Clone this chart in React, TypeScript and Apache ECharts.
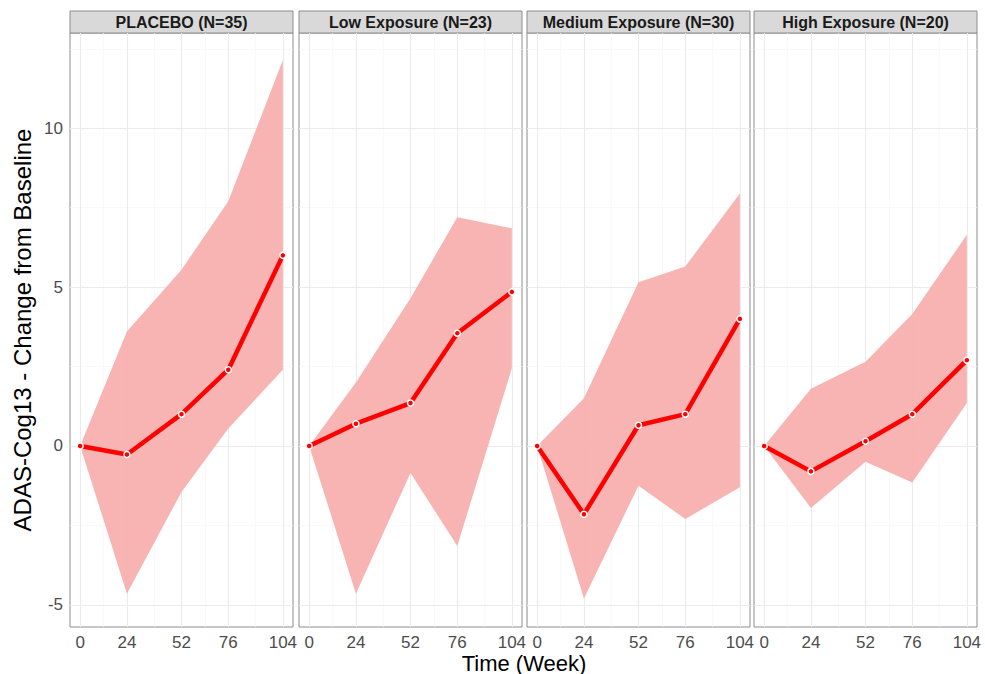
import React, { useEffect, useRef } from "react";
import * as echarts from "echarts";

const weeks = [0, 24, 52, 76, 104];
const panelTitles = [
  "PLACEBO (N=35)",
  "Low Exposure (N=23)",
  "Medium Exposure (N=30)",
  "High Exposure (N=20)",
];

const meanPlacebo = [0, -0.27, 1.0, 2.4, 6.0];
const upperPlacebo = [0, 3.6, 5.55, 7.7, 12.15];
const lowerPlacebo = [0, -4.65, -1.45, 0.55, 2.4];

const meanLow = [0, 0.7, 1.35, 3.55, 4.85];
const upperLow = [0, 2.0, 4.65, 7.2, 6.85];
const lowerLow = [0, -4.65, -0.85, -3.15, 2.45];

const meanMedium = [0, -2.15, 0.65, 1.0, 4.0];
const upperMedium = [0, 1.5, 5.15, 5.65, 7.95];
const lowerMedium = [0, -4.8, -1.25, -2.3, -1.3];

const meanHigh = [0, -0.8, 0.15, 1.0, 2.7];
const upperHigh = [0, 1.8, 2.65, 4.15, 6.65];
const lowerHigh = [0, -1.95, -0.5, -1.15, 1.35];

const yTicks = [-5, 0, 5, 10];
const yMinorGrid = [-2.5, 2.5, 7.5, 12.5];
const xMinorGrid = [12, 38, 64, 90];

const means = [meanPlacebo, meanLow, meanMedium, meanHigh];
const uppers = [upperPlacebo, upperLow, upperMedium, upperHigh];
const lowers = [lowerPlacebo, lowerLow, lowerMedium, lowerHigh];

const FONT = "'Liberation Sans', Arial, Helvetica, sans-serif";

export default function App() {
  const ref = useRef<HTMLDivElement>(null);

  useEffect(() => {
    if (!ref.current) return;
    const chart = echarts.init(ref.current, undefined, { renderer: "svg" });

    const lefts = [70, 299, 527, 754];
    const panelW = 223;
    const top = 33;
    const panelH = 594;

    const grids: any[] = [];
    const xAxes: any[] = [];
    const yAxes: any[] = [];
    const series: any[] = [];
    const graphics: any[] = [];

    const gridMajor = { color: "#EBEBEB", width: 1.1, type: "solid" };
    const gridMinor = { color: "#F6F6F6", width: 0.7, type: "solid" };

    panelTitles.forEach((title, i) => {
      grids.push({
        left: lefts[i],
        top,
        width: panelW,
        height: panelH,
        show: true,
        backgroundColor: "#FFFFFF",
        borderColor: "#8C8C8C",
        borderWidth: 1,
        containLabel: false,
        outerBoundsMode: "none",
      });
      xAxes.push({
        type: "value",
        gridIndex: i,
        min: -5.2,
        max: 109.2,
        axisLine: { show: false },
        splitLine: { show: false },
        axisTick: {
          show: true,
          customValues: weeks,
          length: 4,
          lineStyle: { color: "#333333", width: 1 },
        },
        axisLabel: {
          show: true,
          customValues: weeks,
          margin: 7,
          fontSize: 17,
          color: "#4D4D4D",
          fontFamily: FONT,
        },
      });
      yAxes.push({
        type: "value",
        gridIndex: i,
        min: -5.7,
        max: 13,
        axisLine: { show: false },
        splitLine: { show: false },
        axisTick: {
          show: i === 0,
          customValues: yTicks,
          length: 4,
          lineStyle: { color: "#333333", width: 1 },
        },
        axisLabel: {
          show: i === 0,
          customValues: yTicks,
          margin: 7,
          fontSize: 17,
          color: "#4D4D4D",
          fontFamily: FONT,
        },
      });

      const up = uppers[i];
      const lo = lowers[i];
      series.push({
        type: "custom",
        xAxisIndex: i,
        yAxisIndex: i,
        z: 2,
        silent: true,
        data: weeks.map((w, k) => [w, lo[k], up[k]]),
        encode: { x: 0, y: [1, 2] },
        renderItem: (params: any, api: any) => {
          if (params.dataIndex !== 0) return null;
          const pts: number[][] = [];
          for (let k = 0; k < weeks.length; k++) pts.push(api.coord([weeks[k], up[k]]));
          for (let k = weeks.length - 1; k >= 0; k--) pts.push(api.coord([weeks[k], lo[k]]));
          return {
            type: "polygon",
            shape: { points: pts },
            style: { fill: "#F8ADAD", opacity: 0.93 },
          };
        },
      });

      series.push({
        type: "line",
        xAxisIndex: i,
        yAxisIndex: i,
        z: 3,
        data: weeks.map((w, k) => [w, means[i][k]]),
        lineStyle: { color: "#FF0000", width: 4.5 },
        symbol: "circle",
        symbolSize: 6,
        showSymbol: true,
        itemStyle: { color: "#FF0000", borderColor: "#FFFFFF", borderWidth: 1.5 },
        silent: true,
        markLine: {
          silent: true,
          z: 1,
          symbol: ["none", "none"],
          label: { show: false },
          animation: false,
          data: [
            ...xMinorGrid.map((v) => ({ xAxis: v, lineStyle: gridMinor })),
            ...yMinorGrid.map((v) => ({ yAxis: v, lineStyle: gridMinor })),
            ...weeks.map((v) => ({ xAxis: v, lineStyle: gridMajor })),
            ...yTicks.map((v) => ({ yAxis: v, lineStyle: gridMajor })),
          ],
        },
      });

      graphics.push({
        type: "rect",
        shape: { x: lefts[i], y: 11, width: panelW, height: 22 },
        style: { fill: "#D9D9D9", stroke: "#8C8C8C", lineWidth: 1 },
      });
      graphics.push({
        type: "text",
        x: lefts[i] + panelW / 2,
        y: 22.5,
        style: {
          text: title,
          font: `bold 16px ${FONT}`,
          fill: "#1A1A1A",
          align: "center",
          verticalAlign: "middle",
        },
      });
    });

    graphics.push({
      type: "text",
      x: 22,
      y: 330,
      rotation: Math.PI / 2,
      style: {
        text: "ADAS-Cog13 - Change from Baseline",
        font: `24px ${FONT}`,
        fill: "#000000",
        align: "center",
        verticalAlign: "middle",
      },
    });
    graphics.push({
      type: "text",
      x: 524,
      y: 663,
      style: {
        text: "Time (Week)",
        font: `22px ${FONT}`,
        fill: "#000000",
        align: "center",
        verticalAlign: "middle",
      },
    });

    chart.setOption({
      animation: false,
      backgroundColor: "#FFFFFF",
      textStyle: { fontFamily: FONT },
      grid: grids,
      xAxis: xAxes,
      yAxis: yAxes,
      series,
      graphic: graphics,
    });

    return () => chart.dispose();
  }, []);

  return (
    <div
      ref={ref}
      style={{ position: "fixed", left: 0, top: 0, width: 985, height: 674 }}
    />
  );
}
